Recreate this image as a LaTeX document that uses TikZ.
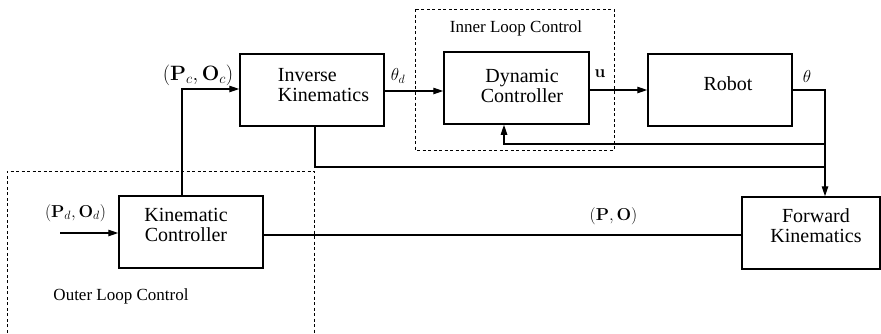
\documentclass[tikz,border=0pt]{standalone}
\usepackage[no-math]{fontspec}
\setmainfont{Liberation Serif}
\usetikzlibrary{arrows.meta,calc}

\newcommand{\fsz}[1]{\fontsize{#1}{#1}\selectfont}

\tikzset{
  blockbox/.style={draw, line width=1.5pt, rectangle, inner sep=0pt,
    minimum width=144pt, minimum height=72pt},
  blocktext/.style={inner sep=0pt, font=\fsz{20}, align=center},
  sig/.style={line width=1.2pt},
  sigarrow/.style={sig, -{Triangle[length=10pt,width=6.5pt]}},
  loopframe/.style={draw, line width=0.8pt, dash pattern=on 3pt off 2.5pt},
  looplabel/.style={inner sep=0pt, font=\fsz{17}, anchor=base},
  siglabel/.style={inner sep=0pt},
}

\begin{document}
\begin{tikzpicture}[x=1pt, y=-1pt]
\useasboundingbox (0,0) rectangle (881,333);
\clip (0,0) rectangle (881,333);

% loop frames
\draw[loopframe] (415,9) rectangle (614,150);
\draw[loopframe] (7,360) |- (314,171) -- (314,360);
\node[looplabel] (innerlbl) at (516,32) {Inner Loop Control};
\node[looplabel] (outerlbl) at (121,300) {Outer Loop Control};

% blocks
\node[blockbox] (IK) at (312,90) {};
\node[blockbox, minimum width=145pt] (DC) at (516.5,88) {};
\node[blockbox] (RB) at (720,90) {};
\node[blockbox] (KC) at (191,232) {};
\node[blockbox, minimum width=138pt] (FK) at (811,233) {};

\node[blocktext, align=left] (IKt) at (323.5,85.5) {Inverse\\Kinematics};
\node[blocktext] (DCt) at (522,85.5) {Dynamic\\Controller};
\node[blocktext] (RBt) at (728,84) {Robot};
\node[blocktext] (KCt) at (186,224.5) {Kinematic\\Controller};
\node[blocktext] (FKt) at (816,226) {Forward\\Kinematics};

% junction points
\coordinate (KCup) at (182,196);
\coordinate (inp) at (60,233);
\coordinate (th) at (825,90);
\coordinate (fb) at (825,144);
\coordinate (ikdown) at (315,126);
\coordinate (ikjoin) at (825,167);

% connectors
\draw[sigarrow] (inp) -- (inp -| KC.west);
\draw[sigarrow] (KCup) |- (IK.west |- 0,89);
\draw[sig] (KC.east |- 0,235) -- (FK.west |- 0,235);
\draw[sigarrow] (IK.east |- 0,91) -- (DC.west |- 0,91);
\draw[sigarrow] (DC.east |- 0,90) -- (RB.west |- 0,90);
\draw[sigarrow] (RB.east |- th) -- (th) -- (th |- FK.north);
\draw[sigarrow] (fb) -| (DC.south -| 504,0);
\draw[sig] (ikdown) |- (ikjoin);

% signal labels
\node[siglabel, font=\fsz{20}] (lPc) at (198,75) {$(\mathbf{P}_c,\mathbf{O}_c)$};
\node[siglabel, font=\fsz{17.5}] (lPd) at (75.5,213) {$(\mathbf{P}_d,\mathbf{O}_d)$};
\node[siglabel, font=\fsz{16.5}] (lPO) at (613.5,216.5) {$(\mathbf{P},\mathbf{O})$};
\node[siglabel, font=\fsz{17}] (lthd) at (398,76) {$\theta_d$};
\node[siglabel, font=\fsz{18}] (lu) at (600,74) {$\mathbf{u}$};
\node[siglabel, font=\fsz{17}] (lth) at (807,76) {$\theta$};
\end{tikzpicture}
\end{document}
